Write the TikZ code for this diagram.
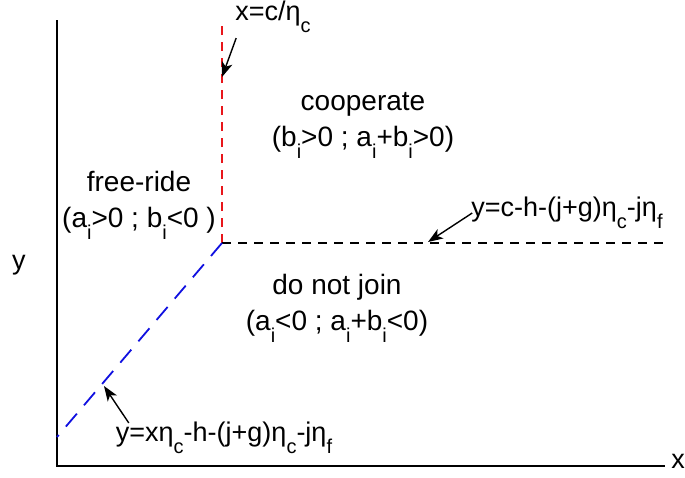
\documentclass[tikz,border=0pt]{standalone}
\usepackage{fontspec}
\setmainfont{Liberation Sans}
\usetikzlibrary{arrows.meta}
\definecolor{lineRed}{HTML}{E8161B}
\definecolor{lineBlue}{HTML}{1010E0}
\newcommand{\lo}[1]{\raisebox{-12pt}{\fontsize{20}{20}\selectfont #1}}
\tikzset{
  axis/.style   = {draw=black, line width=2pt},
  border/.style = {line width=1.8pt, dash pattern=on 9pt off 7pt},
  region/.style = {align=center, font=\fontsize{28}{36}\selectfont, inner sep=0pt},
  lbl/.style    = {font=\fontsize{27}{30}\selectfont, inner sep=1pt},
  ptr/.style    = {-{Stealth[length=15pt, width=11pt, inset=4pt]}, line width=1.4pt}
}
\begin{document}
\begin{tikzpicture}[x=1pt, y=-1pt]
  \useasboundingbox (0,0) rectangle (685,477);
  % axes
  \coordinate (top) at (57,20);
  \coordinate (origin) at (57,466);
  \coordinate (right) at (665,466);
  \draw[axis] (top) -- (origin) -- (right);
  \node[lbl] (ylab) at (19,265) {y};
  \node[lbl] (xlab) at (678,461) {x};

  % region borders
  \coordinate (kink) at (222,243);
  \coordinate (redtop) at (222,22);
  \coordinate (blackend) at (665,243);
  \coordinate (bluestart) at (57,437);
  \draw[border, lineRed] (kink) -- (redtop);
  \draw[border, black] (kink) -- (blackend);
  \draw[border, lineBlue, dash pattern=on 17pt off 11pt] (kink) -- (bluestart);

  % regions
  \node[region] (coop) at (363,125) {cooperate\\(b\lo{i}>0 ; a\lo{i}+b\lo{i}>0)};
  \node[region] (free) at (139,205) {free-ride\\(a\lo{i}>0 ; b\lo{i}<0 )};
  \node[region] (nojoin) at (337,308) {do not join\\(a\lo{i}<0 ; a\lo{i}+b\lo{i}<0)};

  % border labels
  \node[lbl] (lblx) at (273,17) {x=c/η\lo{c}};
  \node[lbl] (lbly) at (567,213) {y=c-h-(j+g)η\lo{c}-jη\lo{f}};
  \node[lbl] (lbld) at (224,438) {y=xη\lo{c}-h-(j+g)η\lo{c}-jη\lo{f}};
  \coordinate (tipx) at (222,77);
  \coordinate (tipy) at (428,242);
  \coordinate (tipd) at (104,386);
  \draw[ptr] (lblx.south west) ++(2,4) -- (tipx);
  \draw[ptr] (lbly.west) ++(2,0) -- (tipy);
  \draw[ptr] (lbld.north west) ++(14,2) -- (tipd);
\end{tikzpicture}
\end{document}
